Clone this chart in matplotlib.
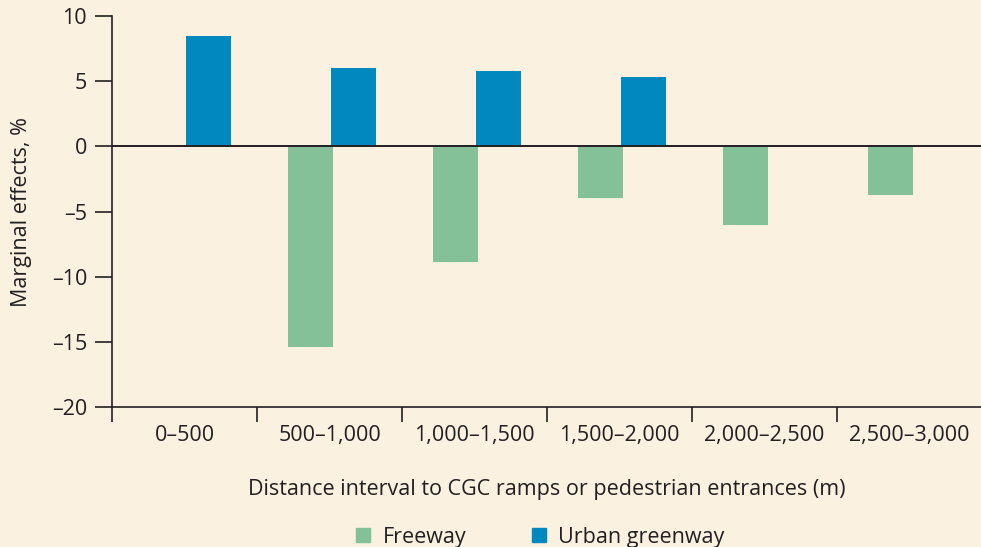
import matplotlib
matplotlib.use("Agg")
import matplotlib.pyplot as plt
from matplotlib.patches import Patch
import numpy as np

categories = ["0–500", "500–1,000", "1,000–1,500", "1,500–2,000", "2,000–2,500", "2,500–3,000"]
freeway = [np.nan, -15.4, -8.9, -4.0, -6.0, -3.7]
greenway = [8.5, 6.0, 5.8, 5.3, np.nan, np.nan]
yticks = [10, 5, 0, -5, -10, -15, -20]
ytick_labels = ["10", "5", "0", "–5", "–10", "–15", "–20"]

BG = "#FAF1E1"
GREEN = "#84C198"
BLUE = "#0088BF"
TXT = "#231F20"
FS = 15.5

plt.rcParams['font.family'] = ['Open Sans', 'DejaVu Sans']

fig = plt.figure(figsize=(9.81, 5.47), dpi=100, facecolor=BG)
ax = fig.add_axes([0.1142, 0.256, 0.887, 0.7146], facecolor=BG)

x = np.arange(len(categories))
w = 0.31
ax.bar(x - 0.13, freeway, width=w, color=GREEN, zorder=2)
ax.bar(x + 0.165, greenway, width=w, color=BLUE, zorder=2)
ax.axhline(0, color=TXT, lw=1.4, zorder=3)

ax.set_xlim(-0.5, len(categories) - 0.5)
ax.set_ylim(-20, 10)
ax.set_yticks(yticks)
ax.set_yticklabels(ytick_labels)
ax.set_xticks(x)
ax.set_xticklabels(categories)
ax.set_xticks(np.arange(len(categories) + 1) - 0.5, minor=True)
ax.tick_params(axis='x', which='major', length=0, pad=13, labelsize=FS, colors=TXT)
ax.tick_params(axis='x', which='minor', length=11, width=1.2, color=TXT, direction='out')
ax.tick_params(axis='y', length=12, width=1.2, color=TXT, labelsize=FS, labelcolor=TXT, pad=6)

for s in ['top', 'right']:
    ax.spines[s].set_visible(False)
for s in ['left', 'bottom']:
    ax.spines[s].set_color(TXT)
    ax.spines[s].set_linewidth(1.2)

ax.set_ylabel("Marginal effects, %", fontsize=FS, color=TXT, labelpad=14)
ax.set_xlabel("Distance interval to CGC ramps or pedestrian entrances (m)", fontsize=FS, color=TXT, labelpad=24)

handles = [Patch(color=GREEN, label="Freeway"), Patch(color=BLUE, label="Urban greenway")]
fig.legend(handles=handles, loc='center', bbox_to_anchor=(0.551, 0.018), ncol=2, frameon=False,
           fontsize=FS, handlelength=0.65, handleheight=0.65, handletextpad=0.6, columnspacing=3.0,
           labelcolor=TXT)

fig.savefig("out.png", dpi=100, facecolor=BG)
